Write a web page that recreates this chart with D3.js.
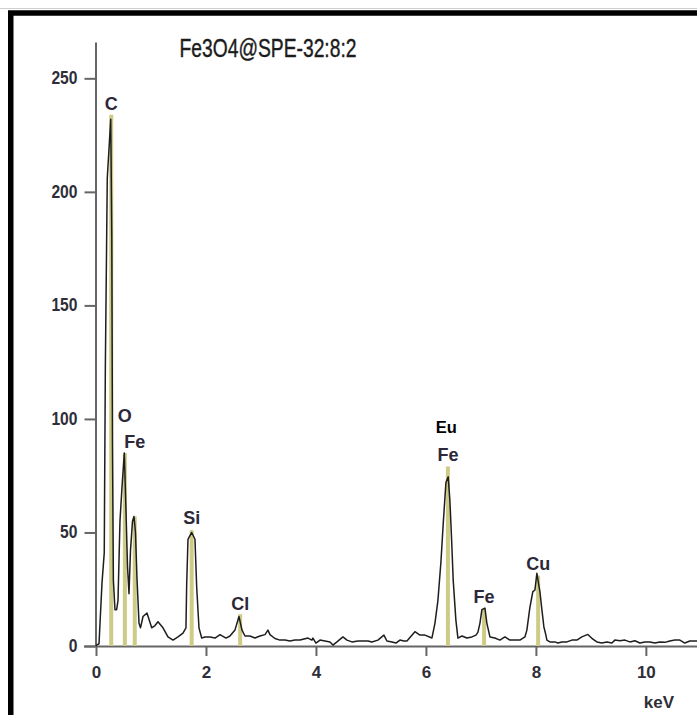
<!DOCTYPE html>
<html>
<head>
<meta charset="utf-8">
<script src="https://cdn.jsdelivr.net/npm/d3@7"></script>
<style>
  html, body { margin: 0; padding: 0; background: #fff; }
  svg { display: block; }
</style>
</head>
<body>
<svg id="chart" width="697" height="715"></svg>
<script>
// EDS spectrum of Fe3O4@SPE-32:8:2 — energy (keV) vs counts
const chartTitle = "Fe3O4@SPE-32:8:2";

const spectrumKeV = [
  0.000, 0.018, 0.055, 0.073, 0.109, 0.150, 0.170, 0.205, 0.268, 0.287, 0.300, 0.316, 0.345, 0.375,
  0.400, 0.436, 0.473, 0.515, 0.545, 0.573, 0.600, 0.627, 0.664, 0.691, 0.718, 0.745, 0.782, 0.809,
  0.855, 0.927, 1.013, 1.073, 1.127, 1.218, 1.309, 1.400, 1.491, 1.582, 1.636, 1.649, 1.673, 1.740,
  1.800, 1.831, 1.873, 1.922, 1.982, 2.073, 2.164, 2.255, 2.364, 2.436, 2.527, 2.600, 2.655, 2.709,
  2.800, 2.891, 2.982, 3.073, 3.127, 3.164, 3.255, 3.345, 3.436, 3.527, 3.618, 3.709, 3.855, 3.927,
  3.945, 4.000, 4.073, 4.164, 4.255, 4.309, 4.382, 4.491, 4.564, 4.655, 4.764, 4.855, 4.945, 5.018,
  5.127, 5.236, 5.291, 5.382, 5.455, 5.527, 5.600, 5.655, 5.800, 5.891, 5.982, 6.109, 6.164, 6.218,
  6.273, 6.315, 6.364, 6.405, 6.436, 6.467, 6.496, 6.545, 6.582, 6.655, 6.745, 6.836, 6.909, 6.945,
  6.982, 7.018, 7.073, 7.109, 7.164, 7.255, 7.345, 7.436, 7.527, 7.618, 7.709, 7.800, 7.836, 7.891,
  7.945, 7.982, 8.018, 8.073, 8.109, 8.145, 8.182, 8.200, 8.255, 8.345, 8.400, 8.473, 8.564, 8.655,
  8.745, 8.836, 8.945, 9.018, 9.109, 9.200, 9.291, 9.382, 9.436, 9.527, 9.618, 9.709, 9.800, 9.891,
  9.982, 10.073, 10.164, 10.255, 10.345, 10.436, 10.527, 10.618, 10.709, 10.800, 10.930
];
const spectrumCounts = [
  0, 0.5, 1, 10, 27.7, 41, 123, 206, 232, 181, 88, 29, 16, 16,
  20, 55, 70, 85, 60, 35, 23, 42, 55, 57, 50, 30, 10, 8,
  13, 14.5, 8, 9, 10.7, 8, 4, 2.6, 4, 5.7, 8, 27, 47, 50,
  47, 26, 8, 3.5, 4, 4, 3.5, 5, 3.5, 4.4, 7, 13, 7, 4.4,
  4.4, 3.5, 4.4, 5, 7, 5, 3.3, 2.6, 2.6, 2.2, 2.6, 2.6, 3.5, 2.6,
  3.5, 1.3, 2.6, 2.2, 1.8, 0.4, 1.8, 4, 2.6, 1.8, 2.2, 2.2, 2.2, 1.8,
  2.6, 4.8, 2.2, 1.8, 1.3, 2.6, 2.2, 2.2, 6.3, 4.8, 4.8, 3.5, 10, 20,
  37, 54, 72, 74.5, 64, 47, 29, 11.4, 3.5, 4.4, 3.5, 4, 4.8, 6,
  10, 16, 16.7, 10, 4, 3.5, 2.6, 4, 2.6, 2.6, 2.6, 4, 7, 17,
  24, 24.6, 32, 24, 16, 8.5, 4.8, 2.6, 1.8, 1.8, 1.3, 1.8, 1.8, 2.6,
  2.6, 4, 5.1, 3.4, 1.8, 1.3, 1.8, 1.3, 2.6, 2.3, 2.6, 1.8, 2.3, 1.3,
  1.8, 1.8, 1.3, 1.8, 1.6, 2.2, 2.6, 2.6, 1.3, 2.2, 2.2
];

// Element line markers
const markerNames   = ["C", "O", "Fe", "Si", "Cl", "Fe", "Fe", "Cu"];
const markerKeV     = [0.277, 0.525, 0.705, 1.740, 2.622, 6.400, 7.058, 8.041];
const markerHeights = [234, 85, 57, 51, 14, 79, 16.5, 31];
const labelLevels   = [239, 101.7, 90.2, 56.8, 18.9, 84.5, 21.6, 36.5];

// Additional annotation
const extraLabel = "Eu";
const extraLabelKeV = 6.37;
const extraLabelLevel = 96.4;

const yTicks = [0, 50, 100, 150, 200, 250];
const xTicks = [0, 2, 4, 6, 8, 10];
const xUnit = "keV";

const svg = d3.select("#chart");

// outer frame
svg.append("line").attr("x1", 0).attr("x2", 697).attr("y1", 8.5).attr("y2", 8.5)
  .attr("stroke", "#cfcfcf").attr("stroke-width", 1);
svg.append("rect")
  .attr("x", 10.75).attr("y", 13)
  .attr("width", 720).attr("height", 740)
  .attr("fill", "none").attr("stroke", "#000").attr("stroke-width", 5.5);

const x = d3.scaleLinear().domain([0, 10.93]).range([96, 697]);
const y = d3.scaleLinear().domain([0, 266]).range([646, 42]);

const labelFont = "'Liberation Sans', Arial, sans-serif";

// y axis
const yAxis = svg.append("g")
  .attr("transform", "translate(95.5,0)")
  .call(d3.axisLeft(y).tickValues(yTicks).tickSize(11).tickPadding(7).tickSizeOuter(0));
yAxis.select(".domain").attr("stroke", "#666").attr("stroke-width", 2);
yAxis.selectAll(".tick line").attr("stroke", "#666").attr("stroke-width", 2);
yAxis.selectAll(".tick text")
  .attr("fill", "#2e2e38").attr("font-family", labelFont)
  .attr("font-size", 17).attr("font-weight", "bold")
  .attr("transform", "scale(0.92,1.08)")
  .attr("x", -18 / 0.92)
  .attr("dy", "0.30em");

// x axis
const xAxis = svg.append("g")
  .attr("transform", "translate(0,646)")
  .call(d3.axisBottom(x).tickValues(xTicks).tickSize(10).tickPadding(10).tickSizeOuter(0));
xAxis.select(".domain").attr("stroke", "#666").attr("stroke-width", 2)
  .attr("d", "M84,0.5H697");
xAxis.selectAll(".tick line").attr("stroke", "#666").attr("stroke-width", 2);
xAxis.selectAll(".tick text")
  .attr("fill", "#2e2e38").attr("font-family", labelFont)
  .attr("font-size", 17).attr("font-weight", "bold");

svg.append("text")
  .attr("x", x(10.0) + 13).attr("y", 708)
  .attr("text-anchor", "middle")
  .attr("font-family", labelFont).attr("font-size", 17).attr("font-weight", "bold")
  .attr("fill", "#2e2e38")
  .text(xUnit);

// element markers
const markers = markerNames.map((n, i) => ({
  name: n, keV: markerKeV[i], h: markerHeights[i], lab: labelLevels[i]
}));

svg.append("g").selectAll("line")
  .data(markers).join("line")
  .attr("x1", d => x(d.keV)).attr("x2", d => x(d.keV))
  .attr("y1", y(0)).attr("y2", d => y(d.h))
  .attr("stroke", "#cdcb86").attr("stroke-width", 4);

// spectrum trace
const pts = spectrumKeV.map((k, i) => [k, spectrumCounts[i]]);
svg.append("path")
  .datum(pts)
  .attr("fill", "none")
  .attr("stroke", "#1e1e1e")
  .attr("stroke-width", 1.5)
  .attr("stroke-linejoin", "round")
  .attr("d", d3.line().x(d => x(d[0])).y(d => y(d[1])));

// element labels
svg.append("g").selectAll("text")
  .data(markers).join("text")
  .attr("x", d => x(d.keV))
  .attr("y", d => y(d.lab))
  .attr("dy", "0.36em")
  .attr("text-anchor", "middle")
  .attr("font-family", labelFont).attr("font-size", 18).attr("font-weight", "bold")
  .attr("fill", "#2c2838")
  .text(d => d.name);

svg.append("text")
  .attr("x", x(extraLabelKeV)).attr("y", y(extraLabelLevel))
  .attr("dy", "0.36em")
  .attr("text-anchor", "middle")
  .attr("font-family", labelFont).attr("font-size", 16.5).attr("font-weight", "bold")
  .attr("fill", "#000")
  .text(extraLabel);

// title
svg.append("text")
  .attr("x", 268).attr("y", 56.5)
  .attr("text-anchor", "middle")
  .attr("font-family", "'Liberation Sans Narrow', 'Arial Narrow', 'Liberation Sans', sans-serif")
  .attr("font-size", 25)
  .attr("textLength", 177).attr("lengthAdjust", "spacingAndGlyphs")
  .attr("fill", "#1c1c1c")
  .attr("stroke", "#1c1c1c").attr("stroke-width", 0.4)
  .text(chartTitle);
</script>
</body>
</html>
